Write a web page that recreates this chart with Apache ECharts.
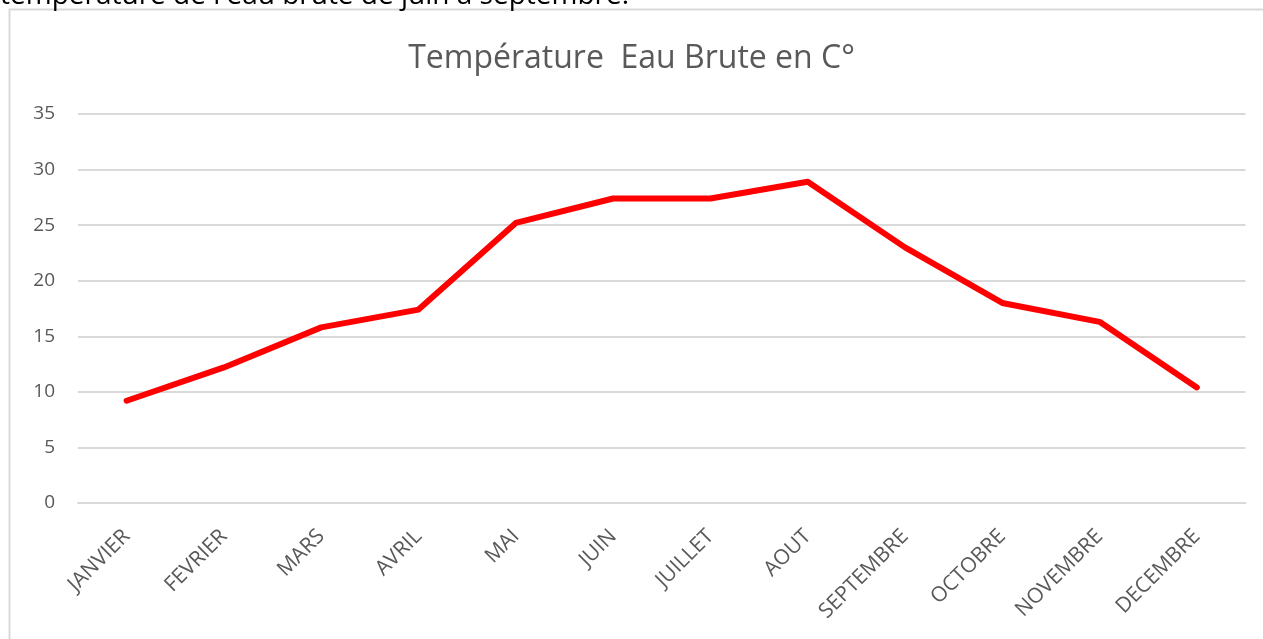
<!DOCTYPE html>
<html>
<head>
<meta charset="utf-8">
<script src="https://cdn.jsdelivr.net/npm/echarts@6/dist/echarts.min.js"></script>
<style>
html,body{margin:0;padding:0;background:#fff;}
#chart{width:1263px;height:639px;}
</style>
</head>
<body>
<div id="chart"></div>
<script>
const categories = ['JANVIER','FEVRIER','MARS','AVRIL','MAI','JUIN','JUILLET','AOUT','SEPTEMBRE','OCTOBRE','NOVEMBRE','DECEMBRE'];
const temperatures = [9.2, 12.2, 15.8, 17.4, 25.2, 27.4, 27.4, 28.9, 23.0, 18.0, 16.3, 10.4];
const chartTitle = 'Température  Eau Brute en C°';
const captionText = "température de l'eau brute de juin à septembre.";

const font = "'Open Sans', 'Noto Sans', sans-serif";
const chart = echarts.init(document.getElementById('chart'), null, {renderer: 'canvas'});
chart.setOption({
  animation: false,
  backgroundColor: '#ffffff',
  title: {
    text: chartTitle,
    left: 'center',
    top: 38,
    textStyle: {color: '#595959', fontSize: 32, fontWeight: 'normal', fontFamily: font}
  },
  graphic: [
    {type: 'rect', shape: {x: 9.5, y: 9.5, width: 1400, height: 800}, style: {fill: 'none', stroke: '#d9d9d9', lineWidth: 2}, silent: true, z: -1},
    {type: 'text', left: 0, top: -18, style: {text: captionText, fill: '#000', font: "28px " + font}, silent: true}
  ],
  grid: {left: 78, right: 17.5, top: 114, bottom: 136, containLabel: false},
  xAxis: {
    type: 'category',
    data: categories,
    boundaryGap: true,
    axisLine: {lineStyle: {color: '#d9d9d9', width: 2}},
    axisTick: {show: false},
    axisLabel: {rotate: 45, color: '#595959', fontSize: 21, fontFamily: font, margin: 30}
  },
  yAxis: {
    type: 'value',
    min: 0, max: 35, interval: 5,
    axisLine: {show: false},
    axisTick: {show: false},
    splitLine: {lineStyle: {color: '#d9d9d9', width: 2}},
    axisLabel: {color: '#595959', fontSize: 19, fontFamily: font, margin: 23}
  },
  series: [{
    type: 'line',
    data: temperatures,
    symbol: 'none',
    lineStyle: {color: '#ff0000', width: 6, join: 'round', cap: 'round'},
    itemStyle: {color: '#ff0000'}
  }]
});
</script>
</body>
</html>
